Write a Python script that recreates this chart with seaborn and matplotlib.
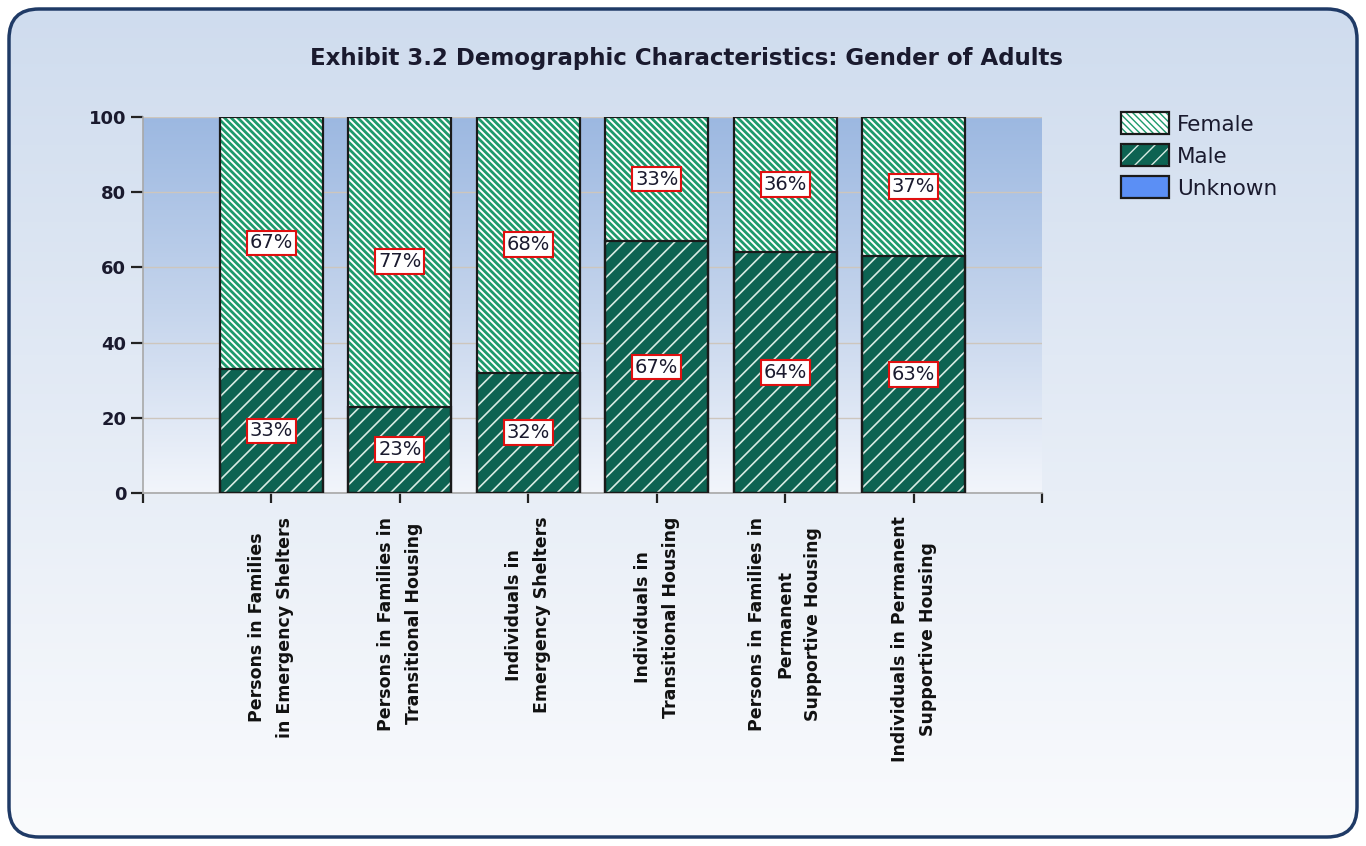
import numpy as np
import pandas as pd
import matplotlib
matplotlib.use("Agg")
import matplotlib.pyplot as plt
import seaborn as sns
from matplotlib.patches import FancyBboxPatch, Rectangle, Patch
from matplotlib.colors import LinearSegmentedColormap
from matplotlib.legend_handler import HandlerTuple

categories = [
    "Persons in Families\nin Emergency Shelters",
    "Persons in Families in\nTransitional Housing",
    "Individuals in\nEmergency Shelters",
    "Individuals in\nTransitional Housing",
    "Persons in Families in\nPermanent\nSupportive Housing",
    "Individuals in Permanent\nSupportive Housing",
]
male = [33, 23, 32, 67, 64, 63]
female = [67, 77, 68, 33, 36, 37]
unknown = [0, 0, 0, 0, 0, 0]
yticks = [0, 20, 40, 60, 80, 100]
title = "Exhibit 3.2 Demographic Characteristics: Gender of Adults"

sns.set_theme(style="white")
plt.rcParams["font.family"] = ["DejaVu Sans"]

W, H = 1366, 846
fig = plt.figure(figsize=(W / 100, H / 100), dpi=100)
fig.patch.set_facecolor("white")


def set_hlw(p, lw):
    if hasattr(p, "set_hatch_linewidth"):
        p.set_hatch_linewidth(lw)
    else:
        p._hatch_linewidth = lw


# figure background with rounded border
bg = fig.add_axes([0, 0, 1, 1], zorder=-10)
bg.set_xlim(0, W)
bg.set_ylim(H, 0)
bg.axis("off")
cmap_bg = LinearSegmentedColormap.from_list("bg", ["#cfdcee", "#fafbfd"])
grad = np.linspace(0, 1, 256).reshape(-1, 1)
box = FancyBboxPatch((9, 9), W - 18, H - 18, boxstyle="round,pad=0,rounding_size=30",
                     facecolor="none", edgecolor="#1f3a66", linewidth=2.5, zorder=3)
img = bg.imshow(grad, cmap=cmap_bg, extent=(9, W - 9, H - 9, 9), aspect="auto", zorder=1)
clip = FancyBboxPatch((9, 9), W - 18, H - 18, boxstyle="round,pad=0,rounding_size=30",
                      facecolor="none", edgecolor="none", transform=bg.transData)
bg.add_patch(clip)
img.set_clip_path(clip)
bg.add_patch(box)

ax = fig.add_axes([143 / W, 1 - 493 / H, (1042 - 143) / W, (493 - 117) / H])
ax.set_facecolor("none")
cmap_ax = LinearSegmentedColormap.from_list("ax", ["#9cb8e1", "#c4d4ec", "#f2f5fb"])
ax.imshow(grad, cmap=cmap_ax, extent=(0, 1, 0, 1), transform=ax.transAxes,
          aspect="auto", zorder=0)

df = pd.DataFrame({"cat": categories, "male": male, "female": female})
df["total"] = df["male"] + df["female"]

female_green = "#1e9a6c"
male_teal = "#0d6352"
male_hatch = "#d8ebe4"
outline = "#1a1a1a"
female_hatch = "\\\\\\\\\\"
male_hatch_pat = "//"

# female (stacked total) layer
sns.barplot(data=df, x="cat", y="total", ax=ax, color="white", width=0.8,
            saturation=1, zorder=2)
n = len(categories)
for p in ax.patches[:n]:
    p.set_facecolor("white")
    p.set_edgecolor(female_green)
    p.set_hatch(female_hatch)
    set_hlw(p, 2.0)
    p.set_linewidth(0)
    p.set_zorder(2)
# male layer
sns.barplot(data=df, x="cat", y="male", ax=ax, color=male_teal, width=0.8,
            saturation=1, zorder=3)
for p in ax.patches[n:2 * n]:
    p.set_facecolor(male_teal)
    p.set_edgecolor(male_hatch)
    p.set_hatch(male_hatch_pat)
    set_hlw(p, 1.2)
    p.set_linewidth(0)
    p.set_zorder(3)
# outlines
for p in list(ax.patches[:2 * n]):
    r = Rectangle(p.get_xy(), p.get_width(), p.get_height(), fill=False,
                  edgecolor=outline, linewidth=1.6, zorder=4)
    ax.add_patch(r)

# value labels
for i in range(n):
    m, f = male[i], female[i]
    for yv, v in [(m / 2, m), (m + f / 2, f)]:
        ax.text(i, yv, f"{v}%", ha="center", va="center", fontsize=14,
                color="#1a1a2e", zorder=6,
                bbox=dict(boxstyle="square,pad=0.15", facecolor="white",
                          edgecolor="#e01010", linewidth=1.5))

ax.set_xlim(-1, n)
ax.set_ylim(0, 100)
ax.set_yticks(yticks)
ax.set_yticklabels([str(t) for t in yticks], fontsize=13, fontweight="bold",
                   color="#1a1a2e")
ax.set_xticks(range(n))
ax.set_xticklabels(categories, rotation=90, fontsize=12.5, fontweight="bold",
                   color="#111111", ha="center", va="top", multialignment="center",
                   linespacing=1.72)
ax.set_xlabel("")
ax.set_ylabel("")
ax.grid(axis="y", color="#cdc6bd", linewidth=1, zorder=1)
ax.set_axisbelow(True)
for s in ["top", "right"]:
    ax.spines[s].set_visible(False)
for s in ["left", "bottom"]:
    ax.spines[s].set_color("#a8a8a8")
    ax.spines[s].set_linewidth(1.2)
ax.tick_params(axis="y", left=True, length=9, width=1.6, color="#222222", pad=3)
ax.tick_params(axis="x", bottom=True, length=7, width=1.6, color="#222222", pad=10)
ax.set_xticks([-1, n], minor=True)
ax.tick_params(axis="x", which="minor", bottom=True, length=7, width=1.6, color="#222222")

fig.text(686 / W, 1 - 58 / H, title, ha="center", va="center", fontsize=16.5,
         fontweight="bold", color="#1a1a2e")

h_f = Patch(facecolor="white", edgecolor=female_green, hatch=female_hatch, linewidth=0)
h_m = Patch(facecolor=male_teal, edgecolor=male_hatch, hatch=male_hatch_pat, linewidth=0)
h_u = Patch(facecolor="#5b8ff5", edgecolor="none", linewidth=0)
h_o = Patch(facecolor="none", edgecolor=outline, linewidth=1.6)
handles = [(h_f, h_o), (h_m, h_o), (h_u, h_o)]
leg = fig.legend(handles=handles, labels=["Female", "Male", "Unknown"],
                 handler_map={tuple: HandlerTuple(ndivide=1, pad=0)},
                 loc="upper left", bbox_to_anchor=(1102 / W, 1 - 93 / H),
                 frameon=False, fontsize=15.5, handlelength=2.2, handleheight=1.2,
                 labelspacing=0.45, handletextpad=0.4, labelcolor="#1a1a2e")

fig.savefig("out.png", dpi=100)
